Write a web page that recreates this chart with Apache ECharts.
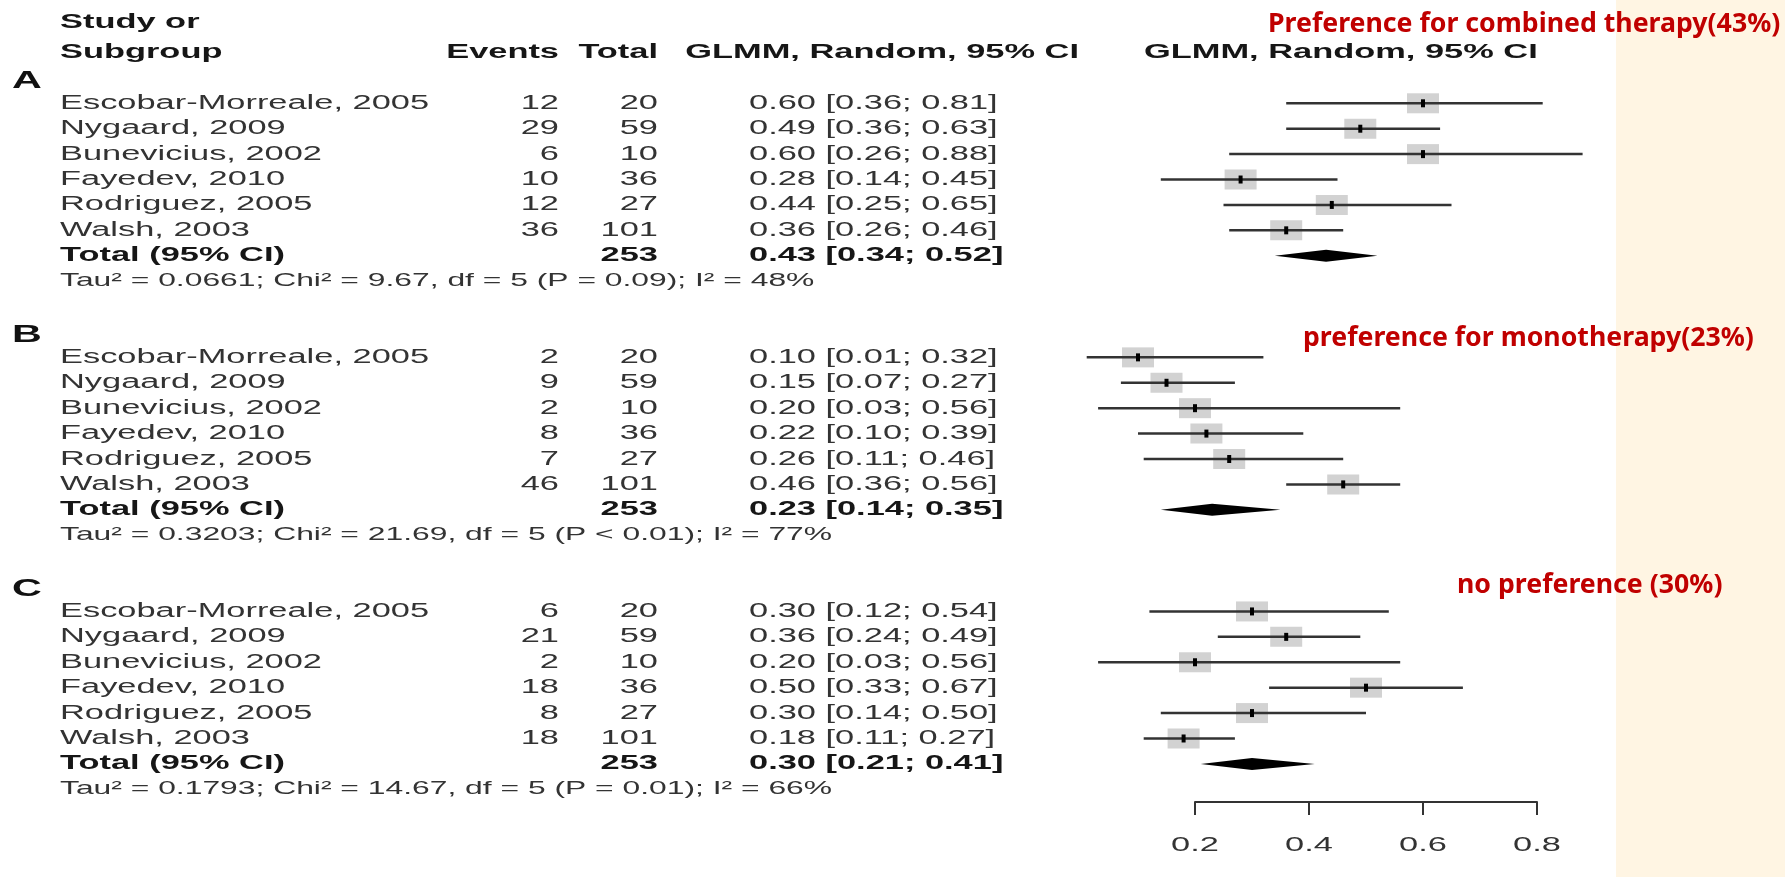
<!DOCTYPE html>
<html>
<head>
<meta charset="utf-8">
<script src="https://cdn.jsdelivr.net/npm/echarts@6/dist/echarts.min.js"></script>
<style>
  html, body { margin: 0; padding: 0; background: #ffffff; }
  #chart { width: 1785px; height: 877px; }
</style>
</head>
<body>
<div id="chart"></div>
<script>
// ---- data ----
const studies = ['Escobar-Morreale, 2005', 'Nygaard, 2009', 'Bunevicius, 2002', 'Fayedev, 2010', 'Rodriguez, 2005', 'Walsh, 2003'];
const totals = [20, 59, 10, 36, 27, 101];
const pooledTotal = 253;
const groupLabels = ['A', 'B', 'C'];

const eventsA = [12, 29, 6, 10, 12, 36];
const eventsB = [2, 9, 2, 8, 7, 46];
const eventsC = [6, 21, 2, 18, 8, 18];

const estA = [0.60, 0.49, 0.60, 0.28, 0.44, 0.36];
const lowA = [0.36, 0.36, 0.26, 0.14, 0.25, 0.26];
const upA  = [0.81, 0.63, 0.88, 0.45, 0.65, 0.46];

const estB = [0.10, 0.15, 0.20, 0.22, 0.26, 0.46];
const lowB = [0.01, 0.07, 0.03, 0.10, 0.11, 0.36];
const upB  = [0.32, 0.27, 0.56, 0.39, 0.46, 0.56];

const estC = [0.30, 0.36, 0.20, 0.50, 0.30, 0.18];
const lowC = [0.12, 0.24, 0.03, 0.33, 0.14, 0.11];
const upC  = [0.54, 0.49, 0.56, 0.67, 0.50, 0.27];

const pooledEst = [0.43, 0.23, 0.30];
const pooledLow = [0.34, 0.14, 0.21];
const pooledUp  = [0.52, 0.35, 0.41];

const tau2 = ['0.0661', '0.3203', '0.1793'];
const chi2 = ['9.67', '21.69', '14.67'];
const pValue = ['= 0.09', '< 0.01', '= 0.01'];
const i2 = [48, 77, 66];

const notes = ['Preference for combined therapy(43%)', 'preference for monotherapy(23%)', 'no preference (30%)'];
const axisTicks = [0.2, 0.4, 0.6, 0.8];

// ---- layout ----
const STRETCH = 1.72;               // horizontal stretch of the table lettering
const FONT = '"Liberation Sans", Arial, Helvetica, sans-serif';
const NOTE_FONT = '"Noto Sans", "Open Sans", sans-serif';
const COL = { letter: 12, study: 60, eventsRight: 559, totalRight: 658, ciLeft: 749, glmmRight: 1079, plotHead: 1144 };
const ROWS_PER_GROUP = 10;
const LAST_ROW = 27.5;

const groups = [
  { events: eventsA, est: estA, low: lowA, up: upA },
  { events: eventsB, est: estB, low: lowB, up: upB },
  { events: eventsC, est: estC, low: lowC, up: upC }
];

const fmtCI = (e, l, u) => e.toFixed(2) + ' [' + l.toFixed(2) + '; ' + u.toFixed(2) + ']';

// table rows: each row = row index + its text cells
const tableRows = [];
const cell = (text, x, align, bold, size, color) => ({ text, x, align, bold, size: size || 20, color });
tableRows.push({ k: -3.2, cells: [cell('Study or', COL.study, 'left', true)] });
tableRows.push({ k: -2, cells: [
  cell('Subgroup', COL.study, 'left', true),
  cell('Events', COL.eventsRight, 'right', true),
  cell('Total', COL.totalRight, 'right', true),
  cell('GLMM, Random, 95% CI', COL.glmmRight, 'right', true),
  cell('GLMM, Random, 95% CI', COL.plotHead, 'left', true)
] });

// forest marks: [estimate, row, lower, upper, pooled flag]
const forestData = [];

groups.forEach((g, gi) => {
  const base = gi * ROWS_PER_GROUP;
  tableRows.push({ k: base - 0.88, cells: [cell(groupLabels[gi], COL.letter, 'left', true, 24, '#111')] });
  studies.forEach((name, i) => {
    tableRows.push({ k: base + i, cells: [
      cell(name, COL.study, 'left', false),
      cell(String(g.events[i]), COL.eventsRight, 'right', false),
      cell(String(totals[i]), COL.totalRight, 'right', false),
      cell(fmtCI(g.est[i], g.low[i], g.up[i]), COL.ciLeft, 'left', false)
    ] });
    forestData.push([g.est[i], base + i, g.low[i], g.up[i], 0]);
  });
  tableRows.push({ k: base + 6, cells: [
    cell('Total (95% CI)', COL.study, 'left', true),
    cell(String(pooledTotal), COL.totalRight, 'right', true),
    cell(fmtCI(pooledEst[gi], pooledLow[gi], pooledUp[gi]), COL.ciLeft, 'left', true)
  ] });
  forestData.push([pooledEst[gi], base + 6, pooledLow[gi], pooledUp[gi], 1]);
  tableRows.push({ k: base + 7, cells: [
    cell('Tau\u00b2 = ' + tau2[gi] + '; Chi\u00b2 = ' + chi2[gi] + ', df = 5 (P ' + pValue[gi] + '); I\u00b2 = ' + i2[gi] + '%',
      COL.study, 'left', false, 18.5)
  ] });
});

function stretchedText(text, x, y, align, bold, size, color) {
  return {
    type: 'text',
    x: x, y: y,
    scaleX: STRETCH,
    style: {
      text: text, x: 0, y: 0,
      fill: color || (bold ? '#161616' : '#333333'),
      fontFamily: FONT, fontSize: size, fontWeight: bold ? 'bold' : 'normal',
      textAlign: align, align: align,
      textVerticalAlign: 'middle', verticalAlign: 'middle'
    }
  };
}

function noteText(text, x, y) {
  return {
    type: 'text', x: x, y: y,
    style: {
      text: text, fill: '#C00000', fontFamily: NOTE_FONT, fontWeight: 'bold', fontSize: 26.7,
      textVerticalAlign: 'middle', verticalAlign: 'middle'
    }
  };
}

const chart = echarts.init(document.getElementById('chart'), null, { renderer: 'canvas' });

chart.setOption({
  backgroundColor: '#ffffff',
  animation: false,
  grid: { left: 1195, right: 248, top: 103.3, bottom: 75 },
  xAxis: {
    type: 'value', min: 0.2, max: 0.8, interval: 0.2,
    axisLine: { show: true, onZero: false, lineStyle: { color: '#333', width: 2 } },
    axisTick: { show: true, length: 13, lineStyle: { color: '#333', width: 2 } },
    axisLabel: { show: false },
    splitLine: { show: false }
  },
  yAxis: { type: 'value', inverse: true, min: 0, max: LAST_ROW, show: false, splitLine: { show: false } },
  graphic: [
    { type: 'rect', x: 1616, y: 0, z: -10, shape: { width: 169, height: 877 }, style: { fill: '#FFF5E3' } },
    noteText(notes[0], 1268, 24),
    noteText(notes[1], 1303, 338),
    noteText(notes[2], 1457, 585)
  ],
  series: [
    {
      name: 'table',
      type: 'custom',
      clip: false,
      silent: true,
      data: tableRows.map(r => [0.5, r.k]),
      renderItem: function (params, api) {
        const row = tableRows[params.dataIndex];
        const y = api.coord([0.5, api.value(1)])[1];
        return {
          type: 'group',
          children: row.cells.map(c => stretchedText(c.text, c.x, y, c.align, c.bold, c.size, c.color))
        };
      }
    },
    {
      name: 'forest',
      type: 'custom',
      clip: false,
      silent: true,
      data: forestData,
      renderItem: function (params, api) {
        const est = api.value(0), k = api.value(1), lo = api.value(2), hi = api.value(3);
        const c = api.coord([est, k]);
        const l = api.coord([lo, k]);
        const u = api.coord([hi, k]);
        if (api.value(4) === 1) {
          return {
            type: 'polygon',
            shape: { points: [[l[0], c[1]], [c[0], c[1] - 6], [u[0], c[1]], [c[0], c[1] + 6]] },
            style: { fill: '#000000' }
          };
        }
        return {
          type: 'group',
          children: [
            { type: 'rect', shape: { x: c[0] - 16, y: c[1] - 10, width: 32, height: 20 }, style: { fill: '#D2D2D2' } },
            { type: 'line', shape: { x1: l[0], y1: c[1], x2: u[0], y2: c[1] }, style: { stroke: '#333333', lineWidth: 2.5 } },
            { type: 'rect', shape: { x: c[0] - 2, y: c[1] - 4, width: 4, height: 8 }, style: { fill: '#000000' } }
          ]
        };
      }
    },
    {
      name: 'tickLabels',
      type: 'custom',
      clip: false,
      silent: true,
      data: axisTicks.map(v => [v, LAST_ROW]),
      renderItem: function (params, api) {
        const p = api.coord([api.value(0), api.value(1)]);
        return stretchedText(api.value(0).toFixed(1), p[0], p[1] + 43, 'center', false, 20, '#333333');
      }
    }
  ]
});
</script>
</body>
</html>
